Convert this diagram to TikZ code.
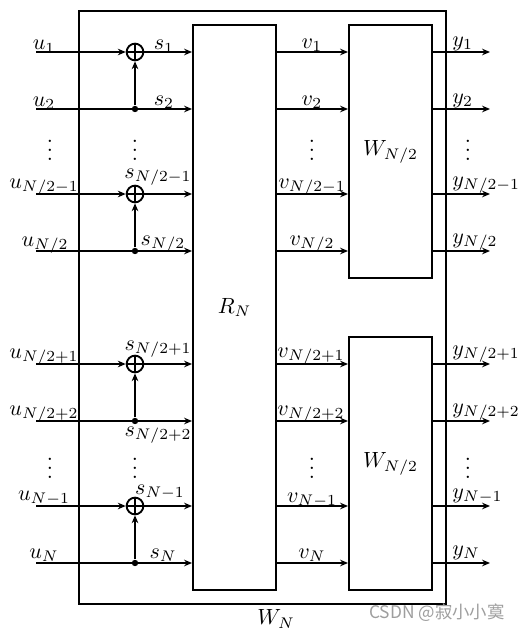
\documentclass[tikz,border=0pt]{standalone}
\usepackage{fontspec}
\newfontfamily\cjkwm{Noto Sans CJK SC}
\usetikzlibrary{arrows.meta}
\def\px{0.4545pt}
\tikzset{
  frame/.style={draw,line width=0.9pt,rectangle,inner sep=0pt},
  sig/.style={line width=0.75pt,-{Stealth[length=3.6pt,width=3pt,inset=1.2pt]}},
  xorgate/.style={draw,circle,line width=0.85pt,minimum size=7.6pt,inner sep=0pt},
  junction/.style={fill,circle,minimum size=2.9pt,inner sep=0pt},
  lab/.style={anchor=base,inner sep=0pt},
  labw/.style={anchor=base west,inner sep=0pt},
  dots/.style={inner sep=0pt}
}
\begin{document}
\begin{tikzpicture}[x=\px,y=-\px]
\useasboundingbox (0,0) rectangle (523,632);
% boxes
\node[frame,minimum width=367*\px,minimum height=593*\px] (outer) at (262.5,307.5) {};
\node[frame,minimum width=83*\px,minimum height=565*\px] (r) at (234.5,307.5) {$R_N$};
\node[frame,minimum width=83*\px,minimum height=253*\px] (wa) at (390.5,151.5) {$W_{N/2}$};
\node[frame,minimum width=83*\px,minimum height=253*\px] (wb) at (390.5,463.5) {$W_{N/2}$};
\node[inner sep=0pt] (wn) at (276,619) {$W_N$};
% rows
\foreach \i/\yy in {1/52,2/109,3/194,4/251,5/364,6/421,7/506,8/563}{
  \coordinate (in\i) at (36,\yy);
  \coordinate (out\i) at (490,\yy);
}
% xor rows and junctions
\foreach \a/\b in {1/2,3/4,5/6,7/8}{
  \node[xorgate] (x\a) at (in\a -| 135,0) {};
  \draw[line width=0.6pt] (x\a.north) -- (x\a.south) (x\a.west) -- (x\a.east);
  \node[junction] (d\b) at (in\b -| 135,0) {};
  \draw[sig] (in\a) -- (x\a);
  \draw[sig] (x\a) -- (r.west |- in\a);
  \draw[sig] (in\b) -- (r.west |- in\b);
  \draw[sig] (d\b) -- (x\a);
}
\foreach \i in {1,2,3,4}{
  \draw[sig] (r.east |- in\i) -- (wa.west |- in\i);
  \draw[sig] (wa.east |- in\i) -- (out\i);
}
\foreach \i in {5,6,7,8}{
  \draw[sig] (r.east |- in\i) -- (wb.west |- in\i);
  \draw[sig] (wb.east |- in\i) -- (out\i);
}
% u labels
\node[lab] (u1) at (44,50) {$u_1$};
\node[lab] (u2) at (44,106) {$u_2$};
\node[lab] (u3) at (44,188) {$u_{N/2-1}$};
\node[lab] (u4) at (45,246) {$u_{N/2}$};
\node[lab] (u5) at (44,358) {$u_{N/2+1}$};
\node[lab] (u6) at (44,415) {$u_{N/2+2}$};
\node[lab] (u7) at (44,500) {$u_{N-1}$};
\node[lab] (u8) at (44,558) {$u_N$};
% s labels
\node[lab] (s1) at (164,50) {$s_1$};
\node[lab] (s2) at (164,105) {$s_2$};
\node[lab] (s3) at (158,178) {$s_{N/2-1}$};
\node[lab] (s4) at (163,245) {$s_{N/2}$};
\node[lab] (s5) at (158,350) {$s_{N/2+1}$};
\node[lab] (s6) at (158,436) {$s_{N/2+2}$};
\node[lab] (s7) at (160,494) {$s_{N-1}$};
\node[lab] (s8) at (163,558) {$s_N$};
% v labels
\node[lab] (v1) at (312,48) {$v_1$};
\node[lab] (v2) at (312,105) {$v_2$};
\node[lab] (v3) at (312,188) {$v_{N/2-1}$};
\node[lab] (v4) at (312,245) {$v_{N/2}$};
\node[lab] (v5) at (311,357) {$v_{N/2+1}$};
\node[lab] (v6) at (311,415) {$v_{N/2+2}$};
\node[lab] (v7) at (312,502) {$v_{N-1}$};
\node[lab] (v8) at (312,558) {$v_N$};
% y labels
\node[labw] (y1) at (452,46) {$y_1$};
\node[labw] (y2) at (452,103) {$y_2$};
\node[labw] (y3) at (452,186) {$y_{N/2-1}$};
\node[labw] (y4) at (452,243) {$y_{N/2}$};
\node[labw] (y5) at (452,355) {$y_{N/2+1}$};
\node[labw] (y6) at (452,413) {$y_{N/2+2}$};
\node[labw] (y7) at (452,498) {$y_{N-1}$};
\node[labw] (y8) at (452,555) {$y_N$};
% vertical dots
\node[dots] (da) at (50,144) {$\vdots$};
\node[dots] (db) at (135,144) {$\vdots$};
\node[dots] (dc) at (312,144) {$\vdots$};
\node[dots] (dd) at (468,144) {$\vdots$};
\node[dots] (de) at (50,462) {$\vdots$};
\node[dots] (df) at (135,462) {$\vdots$};
\node[dots] (dg) at (312,462) {$\vdots$};
\node[dots] (dh) at (468,462) {$\vdots$};
% watermark
\node[inner sep=0pt,text=black!38] (mark) at (437,613) {\cjkwm\fontsize{7.9}{9}\selectfont CSDN @寂小小寞};
\end{tikzpicture}
\end{document}
